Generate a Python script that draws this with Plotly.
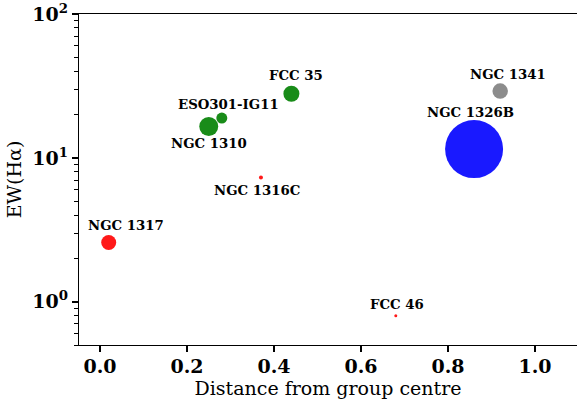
import math
import plotly.graph_objects as go

# Galaxies in the group: distance from centre vs. H-alpha equivalent width
names = ["NGC 1317", "NGC 1316C", "FCC 46", "NGC 1310", "ESO301-IG11",
         "FCC 35", "NGC 1326B", "NGC 1341"]
distance = [0.02, 0.37, 0.68, 0.25, 0.28, 0.44, 0.86, 0.92]
ew_halpha = [2.58, 7.3, 0.80, 16.5, 18.9, 27.9, 11.5, 29.1]
group = ["red", "red", "red", "green", "green", "green", "blue", "grey"]

x_tick_vals = [0.0, 0.2, 0.4, 0.6, 0.8, 1.0]
x_tick_text = ["0.0", "0.2", "0.4", "0.6", "0.8", "1.0"]
y_tick_vals = [1, 10, 100]
y_tick_text = ["10<sup>0</sup>", "10<sup>1</sup>", "10<sup>2</sup>"]

# Styling (marker diameters in px, label offsets in px)
marker_diam = [15, 4, 3, 19, 11, 16, 58, 15.5]
label_shift = [(17, 17), (-4, -13), (1, 11), (0, -17), (7, 14),
               (5, 18), (-4, 37), (8, 17)]
palette = {"red": "#ff0000", "green": "#008000", "blue": "#0000ff",
           "grey": "#808080"}

SERIF = "DejaVu Serif"

fig = go.Figure()
fig.add_trace(go.Scatter(
    x=distance, y=ew_halpha, mode="markers",
    marker=dict(size=marker_diam, color=[palette[g] for g in group],
                opacity=0.9, line=dict(width=0)),
    showlegend=False, hoverinfo="skip",
))

# annotation positions on a log axis are given in log10 units
for name, xv, yv, (dx, dy) in zip(names, distance, ew_halpha, label_shift):
    fig.add_annotation(
        x=xv, y=math.log10(yv), yref="y", xref="x", text=f"<b>{name}</b>",
        showarrow=False, xshift=dx, yshift=dy,
        xanchor="center", yanchor="middle",
        font=dict(family=SERIF, size=13.3, color="black"),
    )

fig.update_layout(
    width=577, height=401,
    margin=dict(l=79, r=0, t=14, b=56),
    paper_bgcolor="white", plot_bgcolor="white",
    font=dict(family=SERIF, color="black"),
)

fig.update_xaxes(
    range=[-0.0483, 1.0966],
    tickvals=x_tick_vals, ticktext=[f"<b>{t}</b>" for t in x_tick_text],
    tickfont=dict(family=SERIF, size=19, color="black"),
    ticks="outside", ticklen=6, tickwidth=1.6, tickcolor="black",
    ticklabelstandoff=-2,
    showline=True, linecolor="black", linewidth=1.3, mirror=True,
    showgrid=False, zeroline=False,
    title=dict(text="Distance from group centre",
               font=dict(family=SERIF, size=19, color="black"), standoff=0),
)

fig.update_yaxes(
    type="log", range=[-0.30103, 2],
    tickvals=y_tick_vals, ticktext=[f"<b>{t}</b>" for t in y_tick_text],
    tickfont=dict(family=SERIF, size=19, color="black"),
    ticks="outside", ticklen=6, tickwidth=1.6, tickcolor="black",
    minor=dict(ticks="outside", ticklen=3.5, tickwidth=1, tickcolor="black",
               dtick="D1", showgrid=False),
    showline=True, linecolor="black", linewidth=1.3, mirror=False,
    showgrid=False, zeroline=False,
    title=dict(text="EW(Hα)",
               font=dict(family=SERIF, size=19, color="black"), standoff=5),
)

fig.write_html("out.html")
